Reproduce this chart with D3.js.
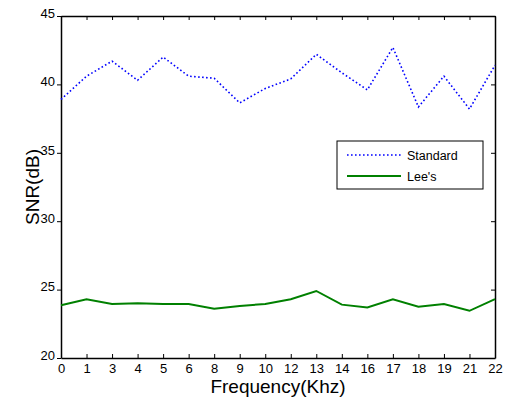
<!DOCTYPE html>
<html>
<head>
<meta charset="utf-8">
<script src="https://cdn.jsdelivr.net/npm/d3@7"></script>
<style>
  body { margin: 0; background: #fff; }
  svg text { font-family: "Liberation Sans", Arial, sans-serif; fill: #000; }
</style>
</head>
<body>
<svg id="chart" width="513" height="400"></svg>
<script>
// frequencies shown on the x axis (evenly spaced, as categories)
var freqs = ["0", "1", "3", "4", "5", "6", "8", "9", "10", "12", "13", "14", "16", "17", "18", "19", "21", "22"];
var standard = [38.9, 40.6, 41.7, 40.3, 42.0, 40.6, 40.45, 38.65, 39.7, 40.4, 42.2, 40.85, 39.6, 42.7, 38.35, 40.6, 38.2, 41.4];
var lees = [23.85, 24.3, 23.95, 24.0, 23.95, 23.95, 23.6, 23.8, 23.95, 24.3, 24.9, 23.9, 23.7, 24.3, 23.75, 23.95, 23.45, 24.3];
var yTicks = [20, 25, 30, 35, 40, 45];

var svg = d3.select("#chart");
var margin = {top: 16, right: 18, bottom: 42, left: 61},
    width = +svg.attr("width") - margin.left - margin.right,
    height = +svg.attr("height") - margin.top - margin.bottom;

var x = d3.scalePoint().domain(freqs).range([0, width]),
    y = d3.scaleLinear().domain([20, 45]).range([height, 0]);

var g = svg.append("g")
    .attr("transform", "translate(" + margin.left + "," + margin.top + ")");

// axes, matlab style: ticks inside on bottom/top/right, outside on left
var xAxis = g.append("g")
    .attr("transform", "translate(0," + height + ")")
    .call(d3.axisBottom(x).tickSizeInner(-4).tickSizeOuter(0).tickPadding(6));
xAxis.selectAll("text").attr("font-size", 13);

g.append("g")
    .call(d3.axisTop(x).tickSizeInner(-4).tickSizeOuter(0).tickFormat(""));

var yAxis = g.append("g")
    .call(d3.axisLeft(y).tickValues(yTicks).tickSizeInner(4).tickSizeOuter(0).tickPadding(2));
yAxis.selectAll("text").attr("font-size", 13).attr("dy", "0.1em");

g.append("g")
    .attr("transform", "translate(" + width + ",0)")
    .call(d3.axisRight(y).tickValues(yTicks).tickSizeInner(-4).tickSizeOuter(0).tickFormat(""));

g.selectAll(".domain").attr("stroke", "#000").attr("stroke-width", 1.5);
g.selectAll(".tick line").attr("stroke", "#000");

var line = d3.line()
    .x(function(d, i) { return x(freqs[i]); })
    .y(function(d) { return y(d); });

g.append("path")
    .datum(standard)
    .attr("fill", "none")
    .attr("stroke", "#0000ff")
    .attr("stroke-width", 1.6)
    .attr("stroke-dasharray", "1.6,2.4")
    .attr("d", line);

g.append("path")
    .datum(lees)
    .attr("fill", "none")
    .attr("stroke", "#008000")
    .attr("stroke-width", 2)
    .attr("d", line);

// axis titles
svg.append("text")
    .attr("x", margin.left + width / 2)
    .attr("y", 393)
    .attr("text-anchor", "middle")
    .attr("font-size", 19)
    .text("Frequency(Khz)");

svg.append("text")
    .attr("transform", "translate(39," + (margin.top + height / 2) + ") rotate(-90)")
    .attr("text-anchor", "middle")
    .attr("font-size", 19)
    .text("SNR(dB)");

// legend
var legend = svg.append("g").attr("transform", "translate(337,141)");
legend.append("rect")
    .attr("width", 146).attr("height", 48)
    .attr("fill", "#fff").attr("stroke", "#000").attr("stroke-width", 1);

var items = [
    {name: "Standard", color: "#0000ff", dash: "1.6,2.4", w: 1.6},
    {name: "Lee's", color: "#008000", dash: null, w: 2}
];
items.forEach(function(it, i) {
    var yy = 14 + i * 21;
    legend.append("line")
        .attr("x1", 10).attr("x2", 64).attr("y1", yy).attr("y2", yy)
        .attr("stroke", it.color).attr("stroke-width", it.w)
        .attr("stroke-dasharray", it.dash);
    legend.append("text")
        .attr("x", 70).attr("y", yy + 4.5)
        .attr("font-size", 12.5)
        .text(it.name);
});
</script>
</body>
</html>
